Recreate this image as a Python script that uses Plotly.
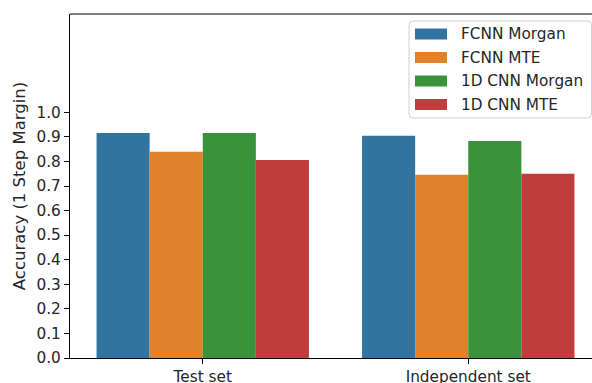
import plotly.graph_objects as go

categories = ["Test set", "Independent set"]
series_names = ["FCNN Morgan", "FCNN MTE", "1D CNN Morgan", "1D CNN MTE"]
fcnn_morgan = [0.916, 0.904]
fcnn_mte = [0.839, 0.746]
cnn_morgan = [0.916, 0.883]
cnn_mte = [0.806, 0.750]
series_values = [fcnn_morgan, fcnn_mte, cnn_morgan, cnn_mte]
colors = ["#3274a1", "#e1812c", "#3a923a", "#c03d3e"]
y_ticks = [0.0, 0.1, 0.2, 0.3, 0.4, 0.5, 0.6, 0.7, 0.8, 0.9, 1.0]

W, H = 592, 383
# plot area in window pixels
WL, WR, WT, WB = 70, 592, 14, 358
L, T = WL, WT
R = W - WR
B = H - WB
pw, ph = WR - WL, WB - WT
UNIT = 265.5  # pixels per category
x_range = [-0.5, -0.5 + pw / UNIT]

def px(x):
    return (x - WL) / pw

def py(y):
    return (WB - y) / ph

fig = go.Figure()
for name, vals, c in zip(series_names, series_values, colors):
    fig.add_trace(go.Bar(x=categories, y=vals, name=name, marker_color=c,
                         marker_line_width=0, showlegend=False, hoverinfo="skip"))

tick_font = dict(family="DejaVu Sans", size=15.3, color="#262626")
label_font = dict(family="DejaVu Sans", size=16.5, color="#262626")
legend_font = dict(family="DejaVu Sans", size=15.3, color="#262626")

fig.update_layout(
    width=W, height=H,
    margin=dict(l=L, r=R, t=T, b=B, pad=0, autoexpand=False),
    plot_bgcolor="white", paper_bgcolor="white",
    barmode="group", bargap=0.2, bargroupgap=0,
    font=tick_font,
    xaxis=dict(range=x_range, showline=True, linecolor="black", linewidth=1.2,
               ticks="outside", ticklen=5, tickwidth=1.2, tickcolor="black",
               showgrid=False, zeroline=False, tickfont=tick_font,
               automargin=False),
    yaxis=dict(range=[0, 1.4], showline=True, linecolor="black", linewidth=1.2,
               ticks="outside", ticklen=5, tickwidth=1.2, tickcolor="black",
               tickvals=y_ticks, tickformat=".1f", showgrid=False, zeroline=False,
               tickfont=tick_font, automargin=False,
               title=dict(text="Accuracy (1 Step Margin)", font=label_font, standoff=6)),
)

shapes = []
shapes.append(dict(type="line", xref="paper", yref="paper", x0=0, x1=1, y0=1, y1=1,
                   line=dict(color="black", width=1.2)))

lx0, lx1, ly0, ly1 = px(409), px(591.5), py(118), py(21)
rx, ry = 4 / pw, 4 / ph
path = (f"M {lx0+rx},{ly0} L {lx1-rx},{ly0} Q {lx1},{ly0} {lx1},{ly0+ry} "
        f"L {lx1},{ly1-ry} Q {lx1},{ly1} {lx1-rx},{ly1} L {lx0+rx},{ly1} "
        f"Q {lx0},{ly1} {lx0},{ly1-ry} L {lx0},{ly0+ry} Q {lx0},{ly0} {lx0+rx},{ly0} Z")
shapes.append(dict(type="path", xref="paper", yref="paper", path=path,
                   fillcolor="rgba(255,255,255,0.8)", line=dict(color="#d0d0d0", width=1)))

row_y = [34, 57.5, 81, 104.5]
annotations = []
for name, c, yy in zip(series_names, colors, row_y):
    shapes.append(dict(type="rect", xref="paper", yref="paper",
                       x0=px(415), x1=px(447), y0=py(yy + 5.5), y1=py(yy - 5.5),
                       fillcolor=c, line=dict(width=0)))
    annotations.append(dict(xref="paper", yref="paper", x=px(459), y=py(yy),
                            xanchor="left", yanchor="middle", text=name,
                            showarrow=False, font=legend_font))

fig.update_layout(shapes=shapes, annotations=annotations)
fig.write_html(
    "out.html",
    config={"displayModeBar": False},
    post_script="document.body.style.margin='0';document.body.style.overflow='hidden';",
)
